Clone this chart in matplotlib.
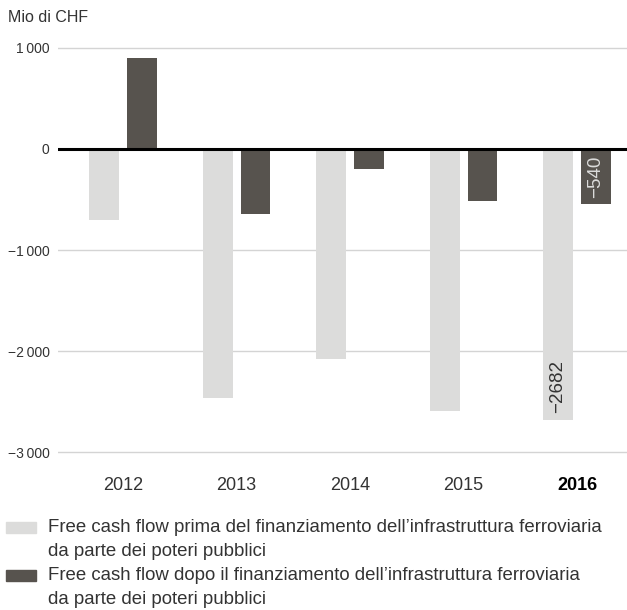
import numpy as np
import matplotlib.pyplot as plt
from matplotlib.patches import Rectangle

plt.rcParams['font.family'] = ['Liberation Sans', 'DejaVu Sans']

# Data (Mio di CHF)
years = ['2012', '2013', '2014', '2015', '2016']
prima = [-700, -2470, -2080, -2590, -2682]
dopo = [900, -645, -200, -515, -540]
yticks = [1000, 0, -1000, -2000, -3000]
ytick_labels = ['1\u2009000', '0', '\u22121\u2009000', '\u22122\u2009000', '\u22123\u2009000']
legend_labels = [
    'Free cash flow prima del finanziamento dell\u2019infrastruttura ferroviaria\nda parte dei poteri pubblici',
    'Free cash flow dopo il finanziamento dell\u2019infrastruttura ferroviaria\nda parte dei poteri pubblici',
]

light = '#dcdcdb'
dark = '#57534e'
txt = '#333333'

W, H = 627, 610
fig = plt.figure(figsize=(W / 100, H / 100), dpi=100)
ax = fig.add_axes([58 / W, 1 - 460 / H, 1 - 58 / W, 420 / H])

x = np.arange(len(years))
w = 0.264
off = 0.167
ax.bar(x - off, prima, w, color=light, zorder=2)
ax.bar(x + off, dopo, w, color=dark, zorder=2)

ax.set_xlim(-0.573, 4.44)
ax.set_ylim(-3079, 1079)
ax.set_yticks(yticks)
ax.set_yticklabels(ytick_labels, fontsize=10, color=txt)
ax.set_xticks(x)
ax.set_xticklabels(years, fontsize=13, color=txt)
ax.get_xticklabels()[-1].set_fontweight('bold')
ax.get_xticklabels()[-1].set_color('black')
ax.tick_params(axis='both', length=0)
ax.tick_params(axis='y', pad=6)
ax.tick_params(axis='x', pad=12)
for s in ax.spines.values():
    s.set_visible(False)
for t in yticks:
    if t != 0:
        ax.axhline(t, color='#d4d4d4', lw=1, zorder=1)
ax.axhline(0, color='black', lw=2.2, zorder=3)

# value labels for 2016
ax.text(x[-1] - off, prima[-1] + 70, '\u22122682', rotation=90, ha='center', va='bottom',
        fontsize=13.5, color=txt, zorder=4)
ax.text(x[-1] + off, -70, '\u2212540', rotation=90, ha='center', va='top',
        fontsize=13.5, color=light, zorder=4)

fig.text(8 / W, 1 - 18 / H, 'Mio di CHF', fontsize=11.5, color=txt, va='center')

# legend
for i, (lab, col) in enumerate(zip(legend_labels, [light, dark])):
    ytop = 522 + i * 48
    fig.patches.append(Rectangle((6 / W, 1 - (ytop + 11) / H), 30 / W, 11 / H,
                                 transform=fig.transFigure, color=col))
    l1, l2 = lab.split('\n')
    fig.text(48 / W, 1 - (ytop + 6) / H, l1, fontsize=13.4, color=txt, va='center')
    fig.text(48 / W, 1 - (ytop + 30) / H, l2, fontsize=13.4, color=txt, va='center')

fig.savefig('out.png', dpi=100)
